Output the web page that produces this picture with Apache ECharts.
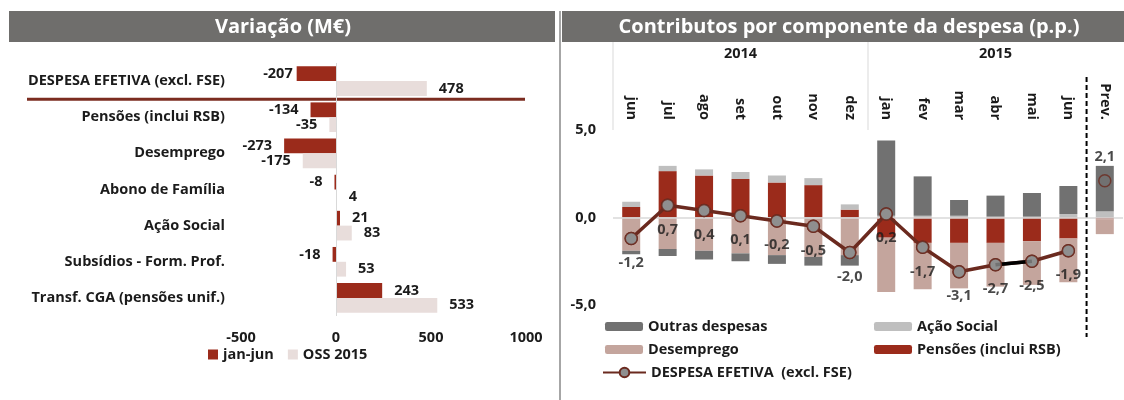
<!DOCTYPE html>
<html>
<head>
<meta charset="utf-8">
<script src="https://cdn.jsdelivr.net/npm/echarts@6/dist/echarts.min.js"></script>
<style>
  html, body { margin: 0; padding: 0; background: #fff; }
  #chart { width: 1124px; height: 400px; }
</style>
</head>
<body>
<div id="chart"></div>
<script>
// painel esquerdo - variação (M€)
const rubricas = ['DESPESA EFETIVA (excl. FSE)', 'Pensões (inclui RSB)', 'Desemprego', 'Abono de Família',
  'Ação Social', 'Subsídios - Form. Prof.', 'Transf. CGA (pensões unif.)'];
const janJun = [-207, -134, -273, -8, 21, -18, 243];
const oss2015 = [478, -35, -175, 4, 83, 53, 533];
const variacaoMin = -500, variacaoMax = 1000, variacaoPasso = 500;

// painel direito - contributos (p.p.)
const meses = ['jun', 'jul', 'ago', 'set', 'out', 'nov', 'dez', 'jan', 'fev', 'mar', 'abr', 'mai', 'jun', 'Prev.'];
const anos = ['2014', '2015'];
const pensoes = [0.6, 2.65, 2.4, 2.2, 2.0, 1.85, 0.45, -1.15, -1.45, -1.45, -1.45, -1.35, -1.2, -0.1];
const acaoSocial = [0.3, 0.3, 0.35, 0.4, 0.4, 0.4, 0.3, 0.1, 0.1, 0.1, 0.05, 0.05, 0.2, 0.35];
const desemprego = [-1.9, -1.8, -1.9, -2.05, -2.15, -2.25, -2.15, -3.1, -2.65, -2.6, -2.5, -2.5, -2.5, -0.85];
const outras = [-0.2, -0.4, -0.5, -0.45, -0.5, -0.5, -0.6, 4.3, 2.25, 0.9, 1.2, 1.35, 1.6, 2.6];
const despesa = [-1.2, 0.7, 0.4, 0.1, -0.2, -0.5, -2.0, 0.2, -1.7, -3.1, -2.7, -2.5, -1.9, 2.1];
const contribMin = -5, contribMax = 5, contribPasso = 5;

const chart = echarts.init(document.getElementById('chart'));
const fonte = '"Open Sans", Lato, sans-serif';
const corTexto = '#1b1b1b';
const vermelho = '#9b2b1b';
const castanho = '#6b2a1f';
const fmt = v => v.toFixed(1).replace('.', ',');
const ultimo = meses.length - 1;
const txt = { fontFamily: fonte, fontSize: 14.5, fontWeight: 'bold', color: corTexto };
const linhaNome = 'DESPESA EFETIVA  (excl. FSE)';

function legenda(nome, left, top, w, h) {
  return {
    data: [nome], left: left, top: top, padding: 0, itemWidth: w, itemHeight: h,
    textStyle: txt, selectedMode: false
  };
}

const option = {
  animation: false,
  textStyle: { fontFamily: fonte },
  grid: [
    { left: 241, width: 285, top: 63, height: 253 },
    { left: 613, width: 510, top: 130, height: 175 }
  ],
  xAxis: [
    {
      gridIndex: 0, type: 'value', min: variacaoMin, max: variacaoMax, interval: variacaoPasso,
      axisLine: { show: false }, axisTick: { show: false }, splitLine: { show: false },
      axisLabel: Object.assign({ margin: 14, formatter: v => String(v) }, txt)
    },
    {
      gridIndex: 1, type: 'category', data: meses, position: 'top',
      axisLine: { show: false, onZero: false }, axisTick: { show: false },
      axisLabel: Object.assign({ rotate: 90, margin: 10, interval: 0 }, txt)
    }
  ],
  yAxis: [
    {
      gridIndex: 0, type: 'category', inverse: true, data: rubricas,
      axisLine: { show: false, onZero: false }, axisTick: { show: false },
      axisLabel: Object.assign({ margin: 16 }, txt)
    },
    {
      gridIndex: 1, type: 'value', min: contribMin, max: contribMax, interval: contribPasso,
      axisLine: { show: false }, axisTick: { show: false }, splitLine: { show: false },
      axisLabel: Object.assign({ margin: 17, formatter: fmt }, txt)
    }
  ],
  legend: [
    { data: ['jan-jun', 'OSS 2015'], left: 208, top: 347, padding: 0, itemWidth: 10, itemHeight: 10,
      itemGap: 14, icon: 'rect', textStyle: txt, selectedMode: false },
    legenda('Outras despesas', 605, 319, 38, 9),
    legenda('Ação Social', 874, 319, 38, 9),
    legenda('Desemprego', 605, 342, 38, 9),
    legenda('Pensões (inclui RSB)', 874, 342, 38, 9),
    legenda(linhaNome, 602, 365, 43, 12)
  ],
  series: [
    {
      name: 'jan-jun', type: 'bar', xAxisIndex: 0, yAxisIndex: 0,
      data: janJun.map((v, i) => ({ value: v, label: { position: v < 0 ? 'left' : 'right', distance: i === 0 ? 4 : 12 } })),
      itemStyle: { color: vermelho }, barGap: '0%', barCategoryGap: '18%',
      label: Object.assign({ show: true }, txt),
      markLine: {
        silent: true, symbol: 'none', label: { show: false },
        lineStyle: { color: '#d9d9d9', width: 1, type: 'solid' }, data: [{ xAxis: 0 }]
      }
    },
    {
      name: 'OSS 2015', type: 'bar', xAxisIndex: 0, yAxisIndex: 0,
      data: oss2015.map(v => ({ value: v, label: { position: v < 0 ? 'left' : 'right' } })),
      itemStyle: { color: '#e8dddb' }, barGap: '0%', barCategoryGap: '18%',
      label: Object.assign({ show: true, distance: 12 }, txt)
    },
    {
      name: 'Pensões (inclui RSB)', type: 'bar', xAxisIndex: 1, yAxisIndex: 1, stack: 'c',
      data: pensoes, barWidth: 18, itemStyle: { color: vermelho },
      markLine: {
        silent: true, symbol: 'none', label: { show: false },
        lineStyle: { color: '#d9d9d9', width: 1.5, type: 'solid' }, data: [{ yAxis: 0 }]
      }
    },
    {
      name: 'Ação Social', type: 'bar', xAxisIndex: 1, yAxisIndex: 1, stack: 'c',
      data: acaoSocial, barWidth: 18, itemStyle: { color: '#bfbfbf' }
    },
    {
      name: 'Desemprego', type: 'bar', xAxisIndex: 1, yAxisIndex: 1, stack: 'c',
      data: desemprego, barWidth: 18, itemStyle: { color: '#c4a59d' }
    },
    {
      name: 'Outras despesas', type: 'bar', xAxisIndex: 1, yAxisIndex: 1, stack: 'c',
      data: outras, barWidth: 18, itemStyle: { color: '#717171' }
    },
    {
      name: linhaNome, type: 'line', xAxisIndex: 1, yAxisIndex: 1, z: 5,
      data: despesa.map((v, i) => (i === ultimo ? null : v)),
      lineStyle: { color: castanho, width: 3.5 }, itemStyle: { color: '#8f8f8f', borderColor: castanho, borderWidth: 1.5 },
      symbol: 'circle', symbolSize: 12
    },
    {
      // troço abr-mai a preto
      name: 'troco', type: 'line', xAxisIndex: 1, yAxisIndex: 1, z: 6, showSymbol: false, silent: true,
      data: despesa.map((v, i) => (i === 10 || i === 11 ? v : null)),
      lineStyle: { color: '#000', width: 3.5 }
    },
    {
      name: 'pontos', type: 'scatter', xAxisIndex: 1, yAxisIndex: 1, z: 7, symbolSize: 12, silent: true,
      data: despesa.map((v, i) => ({
        value: v,
        itemStyle: i === ultimo ? { color: 'rgba(0,0,0,0)' } : {},
        label: { position: i === ultimo ? 'top' : 'bottom' }
      })),
      itemStyle: { color: '#8f8f8f', borderColor: castanho, borderWidth: 1.5 },
      label: Object.assign({ show: true, distance: 10, formatter: p => fmt(p.value) }, txt)
    }
  ]
};
chart.setOption(option);

// elementos de moldura posicionados pelas escalas
const px = i => chart.convertToPixel({ xAxisIndex: 1 }, i);
const banda = px(1) - px(0);
const yCat = i => chart.convertToPixel({ yAxisIndex: 0 }, i);
const ySep = (yCat(0) + yCat(1)) / 2;
const xIni = px(0) - banda / 2;
const xAno = px(6) + banda / 2;
const xPrev = px(ultimo - 1) + banda / 2;

function linha(x1, y1, x2, y2, stroke, w, dash) {
  return { type: 'line', silent: true, shape: { x1, y1, x2, y2 }, style: { stroke, lineWidth: w, lineDash: dash || null } };
}
function texto(t, x, y, size, fill) {
  return { type: 'text', silent: true, x: x, y: y,
    style: { text: t, fill: fill, font: 'bold ' + size + 'px "Open Sans"', textAlign: 'center', textVerticalAlign: 'middle', align: 'center', verticalAlign: 'middle' } };
}

chart.setOption({
  graphic: [
    { type: 'rect', silent: true, shape: { x: 9, y: 11, width: 546, height: 31 }, style: { fill: '#6f6e6c' } },
    { type: 'rect', silent: true, shape: { x: 562, y: 11, width: 562, height: 31 }, style: { fill: '#6f6e6c' } },
    texto('Variação (M€)', 283, 27, 20, '#fff'),
    texto('Contributos por componente da despesa (p.p.)', 849, 27, 20, '#fff'),
    linha(560, 11, 560, 400, '#a6a6a6', 2),
    linha(xIni, 42, xIni, 130, '#d9d9d9', 1),
    linha(xAno, 42, xAno, 130, '#d9d9d9', 1),
    linha(xPrev, 77, xPrev, 337, '#000', 2, [5, 3]),
    linha(27, ySep, 525, ySep, '#7b2c20', 3),
    texto(anos[0], px(3), 54, 14.5, corTexto),
    texto(anos[1], px(10), 54, 14.5, corTexto)
  ]
});
</script>
</body>
</html>
